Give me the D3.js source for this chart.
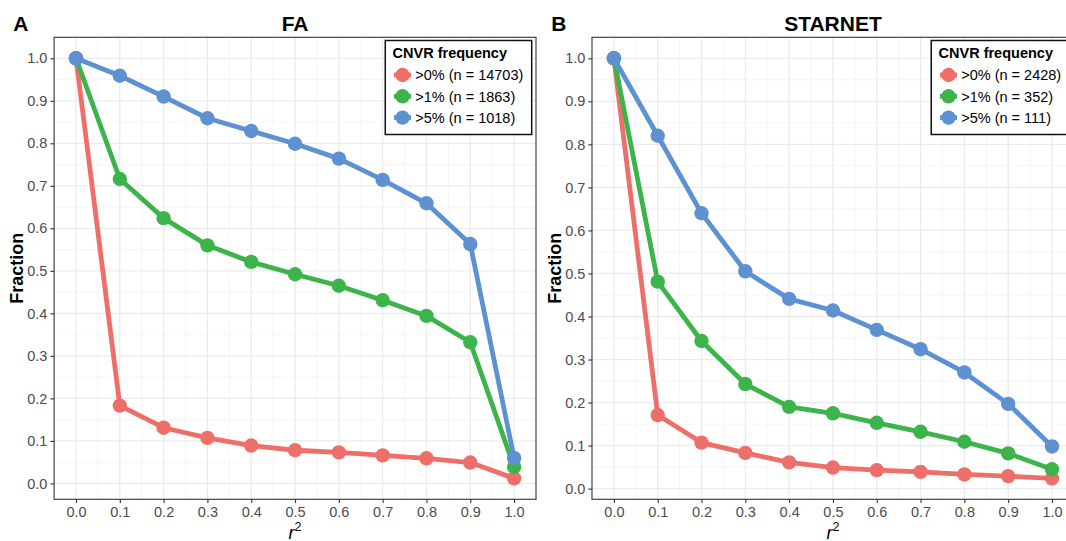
<!DOCTYPE html>
<html>
<head>
<meta charset="utf-8">
<script src="https://cdn.jsdelivr.net/npm/d3@7"></script>
<style>
  html, body { margin: 0; padding: 0; background: #fff; }
  svg { display: block; font-family: "Liberation Sans", Arial, Helvetica, sans-serif; }
</style>
</head>
<body>
<svg id="chart" width="1066" height="541"></svg>
<script>
// r² thresholds on the x axis
const r2 = [0, 0.1, 0.2, 0.3, 0.4, 0.5, 0.6, 0.7, 0.8, 0.9, 1.0];
const xTicks = [0, 0.1, 0.2, 0.3, 0.4, 0.5, 0.6, 0.7, 0.8, 0.9, 1.0];
const yTicks = [0, 0.1, 0.2, 0.3, 0.4, 0.5, 0.6, 0.7, 0.8, 0.9, 1.0];

// FA cohort: fraction of CNVRs remaining at each r² cutoff
const faGt0 = [1.0, 0.183, 0.131, 0.107, 0.089, 0.078, 0.073, 0.066, 0.059, 0.049, 0.012];
const faGt1 = [1.0, 0.716, 0.624, 0.560, 0.521, 0.492, 0.465, 0.431, 0.394, 0.332, 0.039];
const faGt5 = [1.0, 0.959, 0.910, 0.859, 0.829, 0.799, 0.764, 0.714, 0.659, 0.563, 0.060];

// STARNET cohort
const stGt0 = [1.0, 0.171, 0.107, 0.083, 0.061, 0.049, 0.043, 0.039, 0.033, 0.029, 0.024];
const stGt1 = [1.0, 0.481, 0.343, 0.243, 0.190, 0.175, 0.153, 0.132, 0.109, 0.082, 0.045];
const stGt5 = [1.0, 0.820, 0.640, 0.505, 0.441, 0.414, 0.369, 0.324, 0.270, 0.197, 0.098];

const faLegend = [">0% (n = 14703)", ">1% (n = 1863)", ">5% (n = 1018)"];
const stLegend = [">0% (n = 2428)", ">1% (n = 352)", ">5% (n = 111)"];

const seriesColors = ["#EE6F6A", "#3CB44B", "#5D91D1"];

const svg = d3.select("#chart");

function drawPanel(opt) {
  const { left, right, top, bottom, tag, tagX, title, series, labels } = opt;
  const g = svg.append("g");

  const x = d3.scaleLinear().domain([-0.05, 1.05]).range([left, right]);
  const all = series.flat();
  const lo = d3.min(all), hi = d3.max(all), pad = (hi - lo) * 0.05;
  const y = d3.scaleLinear().domain([lo - pad, hi + pad]).range([bottom, top]);

  // clip for everything inside the panel
  const clipId = "clip-" + tag;
  svg.append("clipPath").attr("id", clipId)
    .append("rect").attr("x", left).attr("y", top)
    .attr("width", right - left).attr("height", bottom - top);

  const inner = g.append("g").attr("clip-path", `url(#${clipId})`);
  inner.append("rect").attr("x", left).attr("y", top)
    .attr("width", right - left).attr("height", bottom - top).attr("fill", "#fff");

  // minor grid
  const minor = d3.range(0.05, 1.0, 0.1);
  inner.selectAll(".gx-minor").data(minor).join("line")
    .attr("x1", d => x(d)).attr("x2", d => x(d)).attr("y1", top).attr("y2", bottom)
    .attr("stroke", "#F2F2F2").attr("stroke-width", 0.8);
  inner.selectAll(".gy-minor").data(minor).join("line")
    .attr("y1", d => y(d)).attr("y2", d => y(d)).attr("x1", left).attr("x2", right)
    .attr("stroke", "#F2F2F2").attr("stroke-width", 0.8);
  // major grid
  inner.selectAll(".gx-major").data(xTicks).join("line")
    .attr("x1", d => x(d)).attr("x2", d => x(d)).attr("y1", top).attr("y2", bottom)
    .attr("stroke", "#EBEBEB").attr("stroke-width", 1.3);
  inner.selectAll(".gy-major").data(yTicks).join("line")
    .attr("y1", d => y(d)).attr("y2", d => y(d)).attr("x1", left).attr("x2", right)
    .attr("stroke", "#EBEBEB").attr("stroke-width", 1.3);

  // lines, then points
  const line = d3.line().x((d, i) => x(r2[i])).y(d => y(d));
  series.forEach((s, k) => {
    inner.append("path").datum(s).attr("d", line)
      .attr("fill", "none").attr("stroke", seriesColors[k])
      .attr("stroke-width", 4.8).attr("stroke-linejoin", "round");
  });
  series.forEach((s, k) => {
    inner.selectAll(null).data(s).join("circle")
      .attr("cx", (d, i) => x(r2[i])).attr("cy", d => y(d))
      .attr("r", 7.2).attr("fill", seriesColors[k]);
  });

  // panel border
  g.append("rect").attr("x", left).attr("y", top)
    .attr("width", right - left).attr("height", bottom - top)
    .attr("fill", "none").attr("stroke", "#333").attr("stroke-width", 1.1);

  // axes
  const fmt = d3.format(".1f");
  const yAxis = g.append("g").attr("transform", `translate(${left},0)`)
    .call(d3.axisLeft(y).tickValues(yTicks).tickFormat(fmt).tickSize(3.7).tickPadding(3));
  const xAxis = g.append("g").attr("transform", `translate(0,${bottom})`)
    .call(d3.axisBottom(x).tickValues(xTicks).tickFormat(fmt).tickSize(3.7).tickPadding(3.7));
  [yAxis, xAxis].forEach(a => {
    a.select(".domain").remove();
    a.selectAll(".tick line").attr("stroke", "#333").attr("stroke-width", 1.1);
    a.selectAll(".tick text").attr("fill", "#4D4D4D")
      .style("font-size", "14.5px").style("font-family", "'Liberation Sans', Arial, sans-serif");
  });

  // titles
  const cx = (left + right) / 2;
  g.append("text").attr("x", cx).attr("y", 30.7).attr("text-anchor", "middle")
    .attr("font-weight", "bold").attr("font-size", 21).text(title);
  g.append("text").attr("x", tagX).attr("y", 30.5)
    .attr("font-weight", "bold").attr("font-size", 21).text(tag);

  const ym = (top + bottom) / 2;
  g.append("text").attr("transform", `translate(${left - 30.8},${ym}) rotate(-90)`)
    .attr("text-anchor", "middle").attr("font-weight", "bold").attr("font-size", 18)
    .text("Fraction");

  const xl = g.append("text").attr("x", cx).attr("y", 538.5).attr("text-anchor", "middle")
    .attr("font-size", 18);
  xl.append("tspan").attr("font-style", "italic").text("r");
  xl.append("tspan").attr("font-size", 12.5).attr("dy", -7.5).text("2");

  // legend
  const lg = g.append("g");
  const box = lg.append("rect").attr("fill", "#fff").attr("stroke", "#111").attr("stroke-width", 1.5);
  const tt = lg.append("text").attr("x", 7.3).attr("y", 17.2)
    .attr("font-weight", "bold").attr("font-size", 14.5).text("CNVR frequency");
  const rowY = [34.5, 55.8, 77.1];
  let maxW = tt.node().getComputedTextLength() + 7.3;
  labels.forEach((lab, k) => {
    lg.append("line").attr("x1", 17.3 - 8.5).attr("x2", 17.3 + 8.5)
      .attr("y1", rowY[k]).attr("y2", rowY[k])
      .attr("stroke", seriesColors[k]).attr("stroke-width", 4.8);
    lg.append("circle").attr("cx", 17.3).attr("cy", rowY[k]).attr("r", 7.2)
      .attr("fill", seriesColors[k]);
    const t = lg.append("text").attr("x", 30).attr("y", rowY[k]).attr("dy", "0.36em")
      .attr("font-size", 14.5).text(lab);
    maxW = Math.max(maxW, 30 + t.node().getComputedTextLength());
  });
  const w = maxW + 8.4, h = 94;
  box.attr("x", 0).attr("y", 0).attr("width", w).attr("height", h);
  lg.attr("transform", `translate(${right - 4.3 - w},${top + 3.2})`);
}

drawPanel({
  left: 54.1, right: 536, top: 37.3, bottom: 499.3,
  tag: "A", tagX: 13.3, title: "FA",
  series: [faGt0, faGt1, faGt5], labels: faLegend
});
drawPanel({
  left: 592, right: 1073.9, top: 37.3, bottom: 499.3,
  tag: "B", tagX: 551.3, title: "STARNET",
  series: [stGt0, stGt1, stGt5], labels: stLegend
});
</script>
</body>
</html>
